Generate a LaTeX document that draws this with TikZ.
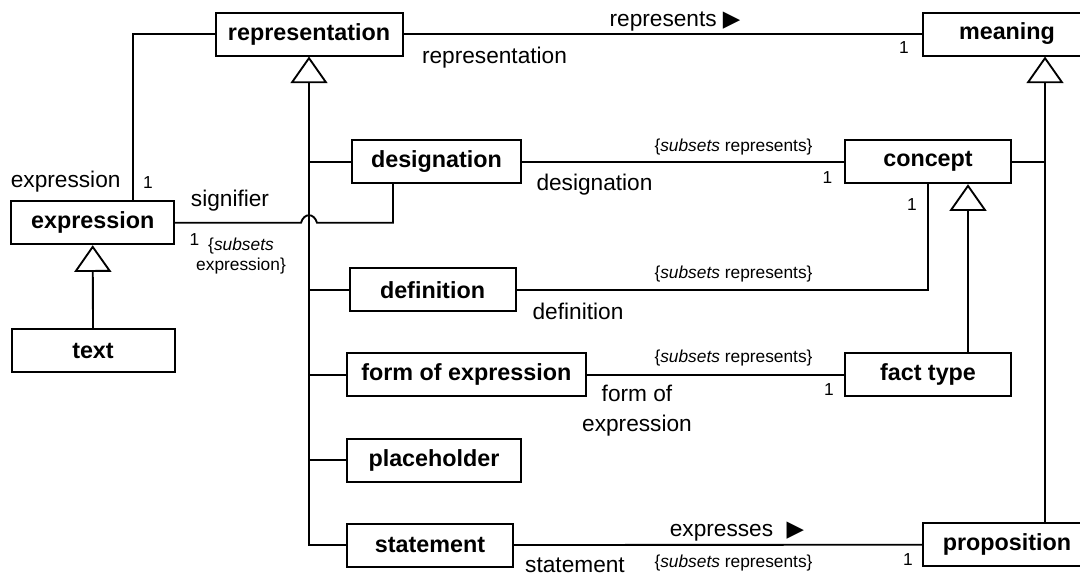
\documentclass[tikz,border=0pt]{standalone}
\usepackage{fontspec}
\setmainfont{Liberation Sans}
\newfontfamily\dvsans{DejaVu Sans}
\usepackage{tikz}
\usetikzlibrary{arrows.meta}
\usetikzlibrary{calc}
\tikzset{class box/.style={draw,
                           line width=1.5pt,
                           inner sep=0pt,
                           minimum height=32.25pt,
                           font=\bfseries\fontsize{17.5}{21}\selectfont}}
\tikzset{assoc/.style={draw,line width=1.4pt}}
\tikzset{gen/.style={assoc,-{Triangle[open,length=20pt,width=27.75pt]}}}
\tikzset{role/.style={inner sep=0pt,anchor=base,font=\fontsize{17}{20}\selectfont}}
\tikzset{mult/.style={inner sep=0pt,anchor=base,font=\fontsize{13}{15}\selectfont}}
\newcommand{\SUBSETS}[1]{\{\textit{subsets} #1\}}
\newcommand{\TRI}{{\dvsans ▶}}

\begin{document}
\begin{tikzpicture}
      [
      x=0.75pt,y=-0.75pt,
      ]
      \useasboundingbox (0,0) rectangle (1080,576);

      % classes
      \foreach \n/\x/\y/\w/\t in
      {
      representation/309/34/187/representation,
      meaning/1007/34/168/meaning,
      designation/436.5/161.7/169/designation,
      concept/928/161.7/166/concept,
      expression/92.7/222.7/163/expression,
      text/93/350.7/163/text,
      definition/432.5/289.7/166/definition,
      formexpr/466.3/374.7/239/form of expression,
      facttype/928/374.7/166/fact type,
      placeholder/434/460/174/placeholder,
      statement/430/545/166/statement,
      proposition/1007/544.7/168/proposition
      }
      {
      \node [class box,minimum width=\w*0.75pt] (\n) at (\x,\y) {\t};
      }

      % generalizations
      \coordinate (mtip) at ($(meaning.south west)+(123,0)$);
      \coordinate (ctip) at ($(concept.south west)+(124,0)$);
      \draw [gen] (statement.west) -| (representation.south);
      \foreach \n in {designation,definition,formexpr,placeholder}
      \draw [assoc] (\n.west) -- (\n.west -| representation.south);
      \draw [gen] (mtip |- proposition.north) -- (mtip);
      \draw [assoc] (concept.east) -- (concept.east -| mtip);
      \draw [gen] (ctip |- facttype.north) -- (ctip);
      \draw [gen] (text.north) -- (expression.south);

      % associations
      \path [assoc] (representation.east) -- (meaning.west);
      \path [assoc] ($(expression.north west)+(122.6,0)$) |- (representation.west);
      \coordinate (hop) at (representation.south |- expression.east);
      \path [assoc] (expression.east) -- ($(hop)+(-8,0)$)
      .. controls +(3,-10) and +(-3,-10) .. ($(hop)+(8,0)$)
      -| ($(designation.south west)+(42,0)$);
      \path [assoc] (designation.east) -- (concept.west);
      \path [assoc] (definition.east) -| (concept.south);
      \path [assoc] (formexpr.east) -- (facttype.west);
      \path [assoc] (statement.east) -- (proposition.west);

      % role names
      \node [role] (represents) at (675,26) {represents \TRI};
      \node [role] (representationR) at (494.5,63) {representation};
      \node [role] (expressionR) at (65.7,187) {expression};
      \node [role] (signifier) at (230,206.7) {signifier};
      \node [role] (designationR) at (594.5,190) {designation};
      \node [role] (definitionR) at (578,319.3) {definition};
      \node [role,anchor=center,align=center,font=\fontsize{17}{22.5}\selectfont]
      (formexprR) at (637,410.7) {form of\\expression};
      \node [role] (expresses) at (737,536) {expresses\hspace{0.6em}\TRI};
      \node [role] (statementR) at (575,572.7) {statement};

      % multiplicities
      \foreach \i/\x/\y in {1/904/53.3,2/148/188.3,3/194.5/245,4/827.5/183.3,
                            5/912/210,6/829/395,7/908/565}
      \node [mult] (m\i) at (\x,\y) {1};

      % constraints
      \foreach \i/\y in {1/151.7,2/278.3,3/362.7,4/567}
      \node [mult] (s\i) at (733.5,\y) {\SUBSETS{represents}};
      \node [mult,anchor=center,align=center] (s5) at (241,256) {\{\textit{subsets}\\expression\}};

    \end{tikzpicture}
\end{document}
